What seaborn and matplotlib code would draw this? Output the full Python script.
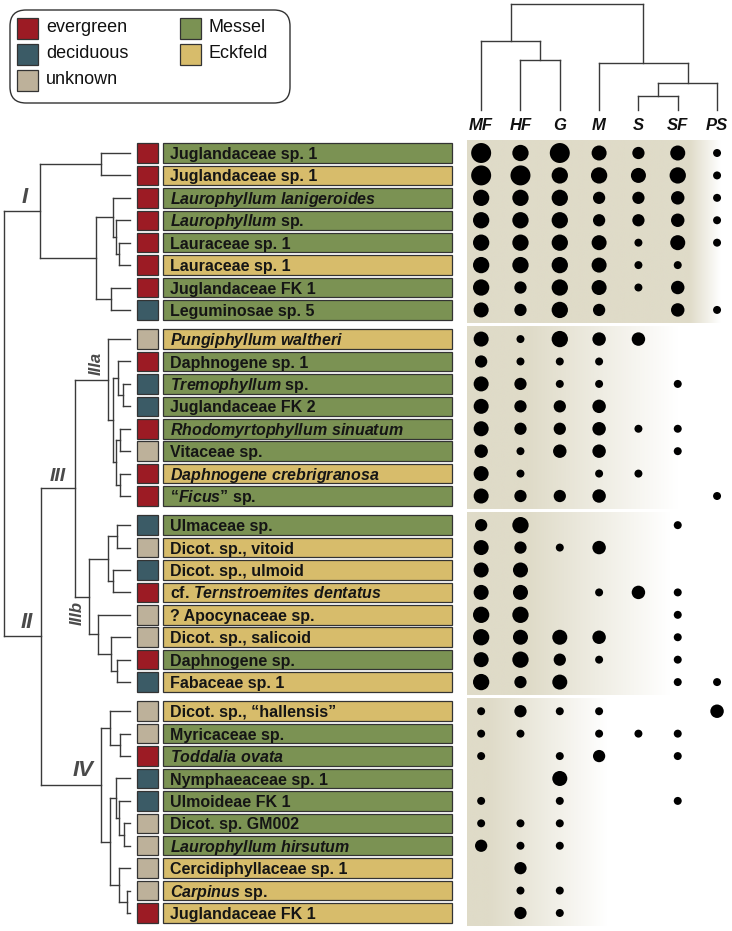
import numpy as np
import pandas as pd
import matplotlib
matplotlib.use("Agg")
import matplotlib.pyplot as plt
import seaborn as sns
from matplotlib.patches import Rectangle, FancyBboxPatch
from matplotlib.colors import to_rgb

sns.set_theme(style="white")
plt.rcParams["font.family"] = ["Liberation Sans", "DejaVu Sans"]
plt.rcParams["mathtext.fontset"] = "custom"
plt.rcParams["mathtext.rm"] = "Liberation Sans:bold"
plt.rcParams["mathtext.bf"] = "Liberation Sans:bold"
plt.rcParams["mathtext.it"] = "Liberation Sans:italic:bold"

# ---------------- data ----------------
species = [
    "Juglandaceae sp. 1", "Juglandaceae sp. 1",
    r"$\mathit{Laurophyllum\ lanigeroides}$", r"$\mathit{Laurophyllum}$ sp.",
    "Lauraceae sp. 1", "Lauraceae sp. 1", "Juglandaceae FK 1", "Leguminosae sp. 5",
    r"$\mathit{Pungiphyllum\ waltheri}$", "Daphnogene sp. 1", r"$\mathit{Tremophyllum}$ sp.",
    "Juglandaceae FK 2", r"$\mathit{Rhodomyrtophyllum\ sinuatum}$", "Vitaceae sp.",
    r"$\mathit{Daphnogene\ crebrigranosa}$", r"“$\mathit{Ficus}$” sp.",
    "Ulmaceae sp.", "Dicot. sp., vitoid", "Dicot. sp., ulmoid",
    r"cf. $\mathit{Ternstroemites\ dentatus}$", "? Apocynaceae sp.", "Dicot. sp., salicoid",
    "Daphnogene sp.", "Fabaceae sp. 1",
    "Dicot. sp., “hallensis”", "Myricaceae sp.", r"$\mathit{Toddalia\ ovata}$",
    "Nymphaeaceae sp. 1", "Ulmoideae FK 1", "Dicot. sp. GM002",
    r"$\mathit{Laurophyllum\ hirsutum}$", "Cercidiphyllaceae sp. 1", r"$\mathit{Carpinus}$ sp.",
    "Juglandaceae FK 1",
]
habit = ["evergreen"] * 7 + ["deciduous"] + [
    "unknown", "evergreen", "deciduous", "deciduous", "evergreen", "unknown", "evergreen", "evergreen",
    "deciduous", "unknown", "deciduous", "evergreen", "unknown", "unknown", "evergreen", "deciduous",
    "unknown", "unknown", "evergreen", "deciduous", "deciduous", "unknown", "unknown", "unknown",
    "unknown", "evergreen"]
site = ["Messel", "Eckfeld", "Messel", "Messel", "Messel", "Eckfeld", "Messel", "Messel",
        "Eckfeld", "Messel", "Messel", "Messel", "Messel", "Messel", "Eckfeld", "Messel",
        "Messel", "Eckfeld", "Eckfeld", "Eckfeld", "Eckfeld", "Eckfeld", "Messel", "Eckfeld",
        "Eckfeld", "Messel", "Messel", "Messel", "Messel", "Messel", "Messel", "Eckfeld",
        "Eckfeld", "Eckfeld"]
group = [0] * 8 + [1] * 8 + [2] * 8 + [3] * 10

columns = ["MF", "HF", "G", "M", "S", "SF", "PS"]
# abundance class (0 = absent, 1 = small ... 6 = very large)
scores = [
    [6, 5, 6, 4, 2, 4, 1],
    [6, 6, 5, 5, 4, 5, 1],
    [5, 5, 5, 2, 2, 3, 1],
    [5, 5, 5, 2, 2, 3, 1],
    [5, 5, 5, 4, 1, 4, 1],
    [5, 5, 5, 4, 1, 1, 0],
    [5, 2, 5, 4, 1, 3, 0],
    [4, 2, 5, 2, 0, 3, 1],
    [4, 1, 5, 3, 3, 0, 0],
    [2, 1, 1, 1, 0, 0, 0],
    [4, 2, 1, 1, 0, 1, 0],
    [4, 2, 2, 3, 0, 0, 0],
    [4, 2, 2, 3, 1, 1, 0],
    [3, 1, 3, 3, 0, 1, 0],
    [4, 1, 0, 1, 1, 0, 0],
    [4, 2, 2, 3, 0, 0, 1],
    [2, 5, 0, 0, 0, 1, 0],
    [4, 2, 1, 3, 0, 0, 0],
    [4, 4, 0, 0, 0, 0, 0],
    [4, 4, 0, 1, 3, 1, 0],
    [5, 5, 0, 0, 0, 1, 0],
    [5, 4, 4, 3, 0, 1, 0],
    [4, 5, 2, 1, 0, 1, 0],
    [5, 2, 4, 0, 0, 1, 1],
    [1, 2, 1, 1, 0, 0, 3],
    [1, 1, 0, 1, 1, 1, 0],
    [1, 0, 1, 2, 0, 1, 0],
    [0, 0, 4, 0, 0, 0, 0],
    [1, 0, 1, 0, 0, 1, 0],
    [1, 1, 1, 0, 0, 0, 0],
    [2, 1, 1, 0, 0, 0, 0],
    [0, 2, 0, 0, 0, 0, 0],
    [0, 1, 1, 0, 0, 0, 0],
    [0, 2, 1, 0, 0, 0, 0],
]

# species dendrogram: [height, child, child], leaves = row index
clade_I = [90, [29, 0, 1], [34, [17, 2, [14, 3, [11, 4, 5]]], [19, 6, 7]]]
clade_IIIa = [22, 8, [17, [12, 9, [7, 10, 11]], [14, [10, 12, 13], [10, 14, 15]]]]
clade_IIIb = [41, [22, [13, 16, 17], [17, 18, 19]], [32, 20, [19, 21, [13, 22, 23]]]]
clade_III = [55, clade_IIIa, clade_IIIb]
clade_IV = [29, [20, 24, [10, 25, 26]],
            [20, [14, 27, [11, 28, [6, 29, 30]]], [11, 31, [3, 32, 33]]]]
clade_II = [89, clade_III, clade_IV]
species_tree = [126, clade_I, clade_II]

# site dendrogram over the columns
site_tree = [1.0, [0.654, 0, [0.475, 1, 2]], [0.441, 3, [0.254, [0.136, 4, 5], 6]]]

habit_colors = {"evergreen": "#9c1b24", "deciduous": "#3b5b66", "unknown": "#bdb19a"}
site_colors = {"Messel": "#7b9253", "Eckfeld": "#d7bc6b"}
size_map = {1: 33, 2: 78, 3: 94, 4: 117, 5: 138, 6: 207}
# background fade (start, end) in column units per group
fades = [(5.3, 6.1), (1.2, 5.0), (1.2, 4.8), (0.2, 3.2)]

# ---------------- layout ----------------
W, H = 732, 931
fig = plt.figure(figsize=(W / 100, H / 100), dpi=100)
fig.patch.set_facecolor("white")


def px_axes(x0, y0, x1, y1):
    ax = fig.add_axes([x0 / W, 1 - y1 / H, (x1 - x0) / W, (y1 - y0) / H])
    ax.axis("off")
    return ax


n = len(species)
GAP = 0.3
ypos = np.arange(n) + GAP * np.array(group)
ylim = (ypos[-1] + 0.58, -0.58)
LINE = "#3a3a3a"


def node_pos(node, pos):
    if isinstance(node, int):
        return pos[node]
    return (node_pos(node[1], pos) + node_pos(node[2], pos)) / 2


def draw_tree(ax, node, pos, horizontal):
    if isinstance(node, int):
        return pos[node], 0.0
    h = node[0]
    pts = [draw_tree(ax, c, pos, horizontal) for c in node[1:]]
    (ca, ha), (cb, hb) = pts
    kw = dict(color=LINE, lw=1.0, solid_capstyle="projecting", clip_on=False)
    if horizontal:
        ax.plot([h, ha], [ca, ca], **kw)
        ax.plot([h, hb], [cb, cb], **kw)
        ax.plot([h, h], [ca, cb], **kw)
    else:
        ax.plot([ca, ca], [ha, h], **kw)
        ax.plot([cb, cb], [hb, h], **kw)
        ax.plot([ca, cb], [h, h], **kw)
    return (ca + cb) / 2, h


# species tree
ax_tree = px_axes(0, 140, 137, 926)
draw_tree(ax_tree, species_tree, ypos, True)
ax_tree.set_xlim(129.5, -7)
ax_tree.set_ylim(ylim)

gl = dict(fontweight="bold", fontstyle="italic", color="#4a4a4a")
yI = node_pos(clade_I, ypos)
yII = node_pos(clade_II, ypos)
yIII = node_pos(clade_III, ypos)
yIIIa = node_pos(clade_IIIa, ypos)
yIIIb = node_pos(clade_IIIb, ypos)
yIV = node_pos(clade_IV, ypos)
ax_tree.text(105, yI - 0.15, "I", fontsize=16, ha="center", va="bottom", **gl)
ax_tree.text(103, yII - 0.15, "II", fontsize=16, ha="center", va="bottom", **gl)
ax_tree.text(72, yIII - 0.12, "III", fontsize=14, ha="center", va="bottom", **gl)
ax_tree.text(34, yIIIa - 0.2, "IIIa", fontsize=12, rotation=90, ha="center", va="bottom", **gl)
ax_tree.text(53, yIIIb + 0.2, "IIIb", fontsize=12, rotation=90, ha="center", va="top", **gl)
ax_tree.text(47, yIV - 0.15, "IV", fontsize=16, ha="center", va="bottom", **gl)

# squares and labels
ax_lab = px_axes(130, 140, 460, 926)
ax_lab.set_xlim(130, 460)
ax_lab.set_ylim(ylim)
bh = 0.87
for y, lab, hb, st in zip(ypos, species, habit, site):
    ax_lab.add_patch(Rectangle((137, y - bh / 2), 21, bh, facecolor=habit_colors[hb],
                               edgecolor="#333333", lw=0.9))
    ax_lab.add_patch(Rectangle((163, y - bh / 2), 289, bh, facecolor=site_colors[st],
                               edgecolor="#333333", lw=0.9))
    ax_lab.text(170, y + 0.27, lab, fontsize=11.5, fontweight="bold", va="baseline",
                color="#151515")

# dot matrix
ax_dot = px_axes(467, 140, 732, 926)
XL = (-0.36, 6.38)
beige = np.array(to_rgb("#dfdbc8"))
xs = np.linspace(XL[0], XL[1], 400)
for g, (f0, f1) in enumerate(fades):
    rows = ypos[np.array(group) == g]
    a = np.clip((f1 - xs) / (f1 - f0), 0, 1)
    img = (1 - a)[:, None] * np.ones(3) + a[:, None] * beige
    ax_dot.imshow(img[None, :, :], extent=[XL[0], XL[1], rows.max() + 0.58, rows.min() - 0.58],
                  aspect="auto", zorder=0, interpolation="bilinear")

records = []
for i, row in enumerate(scores):
    for j, v in enumerate(row):
        if v > 0:
            records.append({"col": j, "ypos": ypos[i], "score": v})
df = pd.DataFrame(records)
sns.scatterplot(data=df, x="col", y="ypos", size="score", sizes=size_map, color="black",
                linewidth=0, legend=False, ax=ax_dot, zorder=3)
ax_dot.set_xlim(XL)
ax_dot.set_ylim(ylim)
ax_dot.axis("off")

# site dendrogram
ax_top = px_axes(467, 4, 732, 110)
draw_tree(ax_top, site_tree, np.arange(len(columns), dtype=float), False)
ax_top.set_xlim(XL)
ax_top.set_ylim(0, 1)
for j, c in enumerate(columns):
    ax_top.text(j, -0.15, c, fontsize=12, fontweight="bold", fontstyle="italic",
                ha="center", va="center", color="#111111")

# legend
ax_leg = px_axes(0, 0, W, H)
ax_leg.set_xlim(0, W)
ax_leg.set_ylim(H, 0)
ax_leg.add_patch(FancyBboxPatch((10, 10), 280, 93, boxstyle="round,pad=0,rounding_size=16",
                                facecolor="white", edgecolor="#333333", lw=1.0))
leg_left = [("evergreen", habit_colors["evergreen"]), ("deciduous", habit_colors["deciduous"]),
            ("unknown", habit_colors["unknown"])]
leg_right = [("Messel", site_colors["Messel"]), ("Eckfeld", site_colors["Eckfeld"])]
for k, (t, c) in enumerate(leg_left):
    yc = 28 + 26 * k
    ax_leg.add_patch(Rectangle((17, yc - 10.5), 21, 21, facecolor=c, edgecolor="#333333", lw=0.9))
    ax_leg.text(46, yc, t, fontsize=13, va="center", color="#111111")
for k, (t, c) in enumerate(leg_right):
    yc = 28 + 26 * k
    ax_leg.add_patch(Rectangle((180, yc - 10.5), 21, 21, facecolor=c, edgecolor="#333333", lw=0.9))
    ax_leg.text(209, yc, t, fontsize=13, va="center", color="#111111")

fig.savefig("out.png", dpi=100, facecolor="white")
